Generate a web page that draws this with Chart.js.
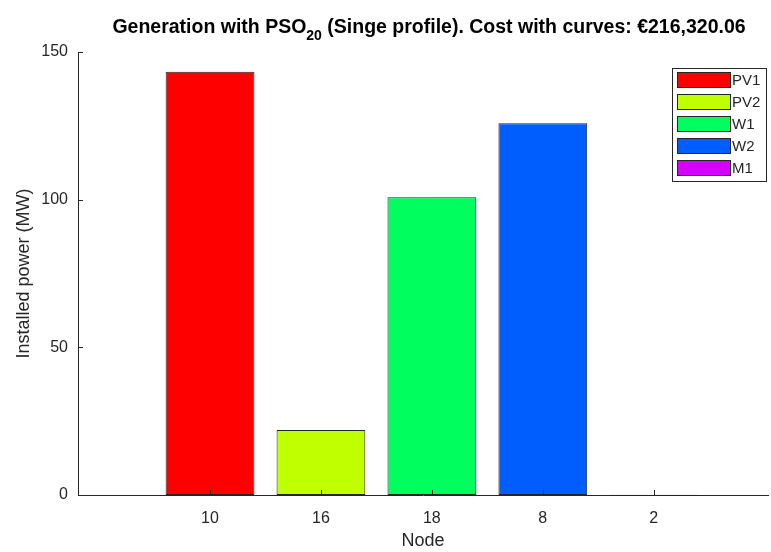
<!DOCTYPE html>
<html>
<head>
<meta charset="utf-8">
<script src="https://cdn.jsdelivr.net/npm/chart.js@4.4.1/dist/chart.umd.min.js"></script>
<style>
  html, body { margin: 0; padding: 0; background: #fff; }
  #wrap { width: 771px; height: 552px; }
</style>
</head>
<body>
<div id="wrap"><canvas id="chart" width="771" height="552"></canvas></div>
<script>
// values
var nodes = ['10', '16', '18', '8', '2'];
var sources = ['PV1', 'PV2', 'W1', 'W2', 'M1'];
var installed = [143.3, 22.0, 100.8, 125.9, 0.1];
var colors = ['#ff0000', '#bfff00', '#00ff5e', '#005eff', '#d600ff'];
var yTicks = [0, 50, 100, 150];

var axisColor = '#262626';
var fontFamily = '"Liberation Sans", Arial, Helvetica, sans-serif';

var datasets = sources.map(function (name, i) {
  return {
    label: name,
    data: [{ x: i + 1, y: installed[i] }],
    backgroundColor: colors[i],
    borderColor: '#262626',
    borderWidth: 1,
    borderSkipped: false,
    grouped: false,
    categoryPercentage: 0.8,
    barPercentage: 1.0
  };
});

// title with a subscript, drawn on the canvas
var titlePlugin = {
  id: 'subTitle',
  afterDraw: function (chart) {
    var ctx = chart.ctx;
    var parts = [
      { t: 'Generation with PSO', size: 19.5, dy: 0 },
      { t: '20', size: 14, dy: 7 },
      { t: ' (Singe profile). Cost with curves: \u20ac216,320.06', size: 19.5, dy: 0 }
    ];
    ctx.save();
    var total = 0;
    parts.forEach(function (p) {
      ctx.font = 'bold ' + p.size + 'px ' + fontFamily;
      p.w = ctx.measureText(p.t).width;
      total += p.w;
    });
    var x = 429 - total / 2;
    var y = 33;
    ctx.fillStyle = '#000';
    ctx.textBaseline = 'alphabetic';
    parts.forEach(function (p) {
      ctx.font = 'bold ' + p.size + 'px ' + fontFamily;
      ctx.fillText(p.t, x, y + p.dy);
      x += p.w;
    });
    ctx.restore();
  }
};

// inward tick marks like the original
var inwardTicks = {
  id: 'inwardTicks',
  afterDraw: function (chart) {
    var ctx = chart.ctx;
    var xs = chart.scales.x;
    var ys = chart.scales.y;
    var area = chart.chartArea;
    ctx.save();
    ctx.strokeStyle = axisColor;
    ctx.lineWidth = 1;
    ctx.beginPath();
    yTicks.forEach(function (v) {
      var py = Math.round(ys.getPixelForValue(v)) + 0.5;
      ctx.moveTo(area.left, py);
      ctx.lineTo(area.left + 5, py);
    });
    nodes.forEach(function (n, i) {
      var px = Math.round(xs.getPixelForValue(i + 1)) + 0.5;
      ctx.moveTo(px, area.bottom);
      ctx.lineTo(px, area.bottom - 5);
    });
    ctx.stroke();
    ctx.restore();
  }
};

// boxed legend inside the plot, top right
var boxLegend = {
  id: 'boxLegend',
  afterDraw: function (chart) {
    var ctx = chart.ctx;
    var left = 672, top = 68, w = 94, h = 113;
    ctx.save();
    ctx.fillStyle = '#fff';
    ctx.fillRect(left, top, w, h);
    ctx.strokeStyle = '#262626';
    ctx.lineWidth = 1;
    ctx.strokeRect(left + 0.5, top + 0.5, w, h);
    ctx.font = '15px ' + fontFamily;
    ctx.textBaseline = 'middle';
    chart.data.datasets.forEach(function (ds, i) {
      var sy = top + 4.5 + i * 22;
      ctx.fillStyle = ds.backgroundColor;
      ctx.fillRect(left + 5.5, sy, 53, 15);
      ctx.strokeStyle = '#262626';
      ctx.strokeRect(left + 5.5, sy, 53, 15);
      ctx.fillStyle = axisColor;
      ctx.fillText(ds.label, left + 60, sy + 8);
    });
    ctx.restore();
  }
};

new Chart(document.getElementById('chart'), {
  type: 'bar',
  data: { datasets: datasets },
  plugins: [titlePlugin, inwardTicks, boxLegend],
  options: {
    responsive: false,
    animation: false,
    layout: { padding: { top: 52, right: 3, left: 0, bottom: 0 } },
    plugins: {
      legend: { display: false },
      title: { display: false },
      tooltip: { enabled: false }
    },
    scales: {
      x: {
        type: 'linear',
        offset: false,
        min: -0.19,
        max: 6.03,
        afterFit: function (scale) { scale.height = 57; },
        afterBuildTicks: function (scale) {
          scale.ticks = nodes.map(function (n, i) { return { value: i + 1 }; });
        },
        ticks: {
          autoSkip: false,
          maxRotation: 0,
          padding: 14,
          color: axisColor,
          font: { size: 16, family: fontFamily },
          callback: function (v) { return nodes[v - 1]; }
        },
        grid: { display: false, drawTicks: false, offset: false },
        border: { display: true, color: axisColor, width: 1 },
        title: {
          display: true,
          text: 'Node',
          color: axisColor,
          font: { size: 18, family: fontFamily },
          padding: { top: 0, bottom: 0 }
        }
      },
      y: {
        min: 0,
        max: 150,
        afterFit: function (scale) { scale.width = 78; },
        afterBuildTicks: function (scale) {
          scale.ticks = yTicks.map(function (v) { return { value: v }; });
        },
        ticks: {
          padding: 10,
          color: axisColor,
          font: { size: 16, family: fontFamily }
        },
        grid: { display: false, drawTicks: false },
        border: { display: true, color: axisColor, width: 1 },
        title: {
          display: true,
          text: 'Installed power (MW)',
          color: axisColor,
          font: { size: 18, family: fontFamily },
          padding: { top: 13, bottom: 0 }
        }
      }
    }
  }
});
</script>
</body>
</html>
